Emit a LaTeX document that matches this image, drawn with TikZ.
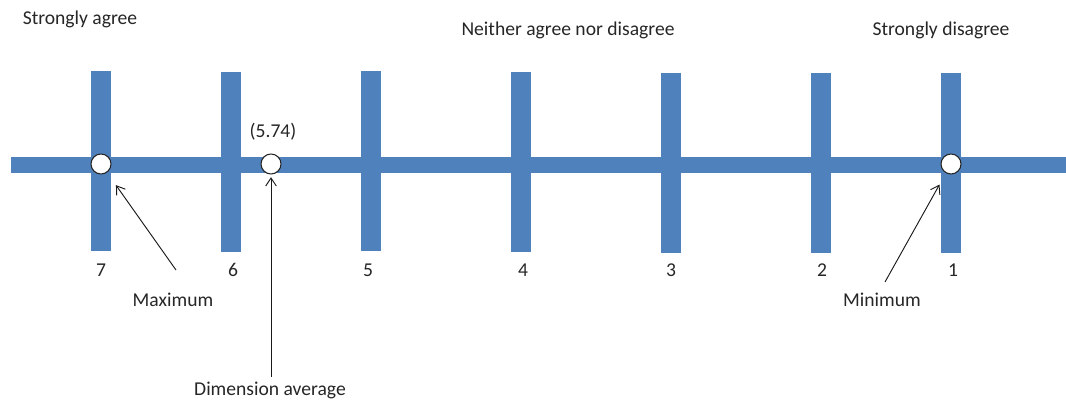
\documentclass[tikz,border=0pt]{standalone}
\usepackage{fontspec}
\setmainfont{Carlito}
\usepackage{xcolor}
\usetikzlibrary{arrows.meta}
\definecolor{barblue}{HTML}{4F81BD}
\definecolor{txtgray}{HTML}{262626}

\begin{document}
\begin{tikzpicture}[x=0.75pt,y=-0.75pt,font=\fontsize{14.7}{17}\selectfont,text=txtgray,
  tick/.style={fill=barblue,inner sep=0pt,minimum width=15pt,minimum height=135pt},
  dot/.style={circle,draw=txtgray,fill=white,line width=0.8pt,inner sep=0pt,minimum size=15pt},
  pointer/.style={-{Straight Barb[length=6pt,width=8pt]},line width=0.7pt,draw=black!90}]
\useasboundingbox (0,0) rectangle (1066,402);
% scale headings
\node (lblagree) at (80,19) {Strongly agree};
\node (lblneither) at (568,30) {Neither agree nor disagree};
\node (lbldisagree) at (941,30) {Strongly disagree};
% the ticks and the axis over them
\node[tick] (tick7) at (101,161) {};
\node[tick] (tick6) at (231,162) {};
\node[tick] (tick5) at (371,161) {};
\node[tick] (tick4) at (521,162) {};
\node[tick] (tick3) at (671,163) {};
\node[tick] (tick2) at (821,163) {};
\node[tick] (tick1) at (951,163) {};
\fill[barblue] (11,157) rectangle (1066,173);
\node (num7) at (101,270) {7};
\node (num6) at (233,270) {6};
\node (num5) at (368,270) {5};
\node (num4) at (523,270) {4};
\node (num3) at (671,270) {3};
\node (num2) at (822,270) {2};
\node (num1) at (953,270) {1};
% marked values
\node[dot] (dot7) at (101,164) {};
\node[dot] (dotavg) at (271,164) {};
\node[dot] (dot1) at (951,164) {};
\node (lblavgval) at (273,132) {(5.74)};
\node (lblmax) at (173,300) {Maximum};
\node (lblmin) at (882,300) {Minimum};
\node (lblavg) at (270,390) {Dimension average};
\coordinate (maxfoot) at (176,270);
\coordinate (minfoot) at (885,282);
\draw[pointer,shorten >=11.5pt] (maxfoot) -- (dot7);
\draw[pointer,shorten >=9.8pt] (minfoot) -- (dot1);
\draw[pointer,shorten >=2pt] (lblavg.north -| dotavg) -- (dotavg);
\end{tikzpicture}
\end{document}
